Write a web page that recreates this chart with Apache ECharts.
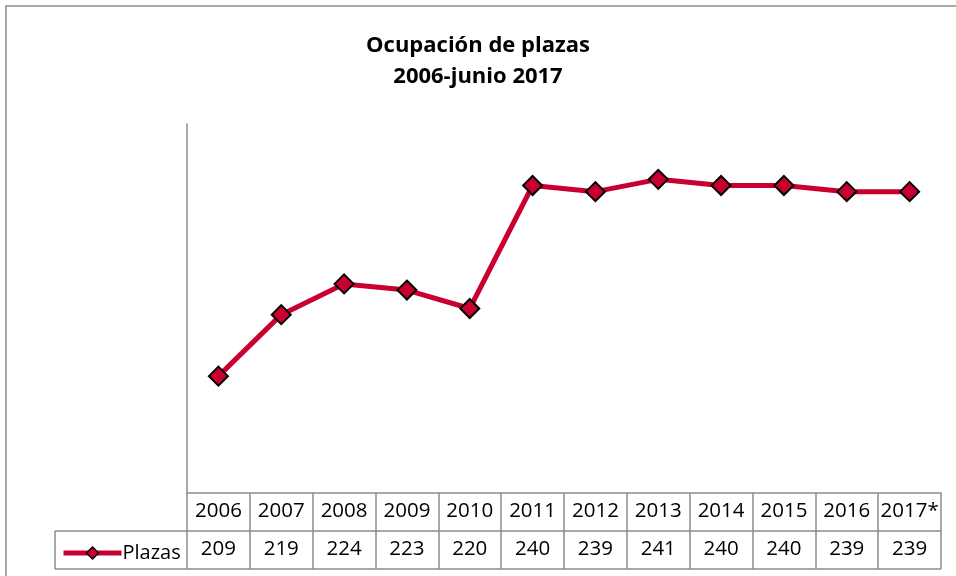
<!DOCTYPE html>
<html>
<head>
<meta charset="utf-8">
<script src="https://cdn.jsdelivr.net/npm/echarts@6/dist/echarts.min.js"></script>
<style>
  html, body { margin: 0; padding: 0; background: #fff; }
  #main { width: 956px; height: 576px; }
</style>
</head>
<body>
<div id="main"></div>
<script>
var years = ['2006', '2007', '2008', '2009', '2010', '2011', '2012', '2013', '2014', '2015', '2016', '2017*'];
var plazas = [209, 219, 224, 223, 220, 240, 239, 241, 240, 240, 239, 239];
var seriesName = 'Plazas';

var red = '#C9002F';
var gray = '#8c8c8c';
var font = '"Open Sans", sans-serif';

var myChart = echarts.init(document.getElementById('main'));

myChart.setOption({
	animation: false,
	backgroundColor: '#fff',
	title: {
		text: 'Ocupación de plazas\n2006-junio 2017',
		left: 'center',
		top: 25,
		textStyle: {
			fontFamily: font,
			fontWeight: 'bold',
			fontSize: 22,
			lineHeight: 31,
			color: '#000'
		}
	},
	legend: {
		data: [seriesName],
		left: 56,
		top: 538,
		itemWidth: 58,
		itemHeight: 15,
		itemGap: 4,
		lineStyle: { width: 5 },
		itemStyle: { borderColor: '#000', borderWidth: 1.5 },
		textStyle: { fontFamily: font, fontSize: 20, color: '#000', padding: [0, 0, 0, -4] }
	},
	grid: { left: 187, right: 15, top: 124, bottom: 83 },
	xAxis: [{
		type: 'category',
		data: years,
		position: 'bottom',
		axisLine: { show: true, lineStyle: { color: gray, width: 1.5 } },
		axisTick: { show: true, interval: 0, length: 76, lineStyle: { color: gray, width: 1.5 } },
		axisLabel: { interval: 0, margin: 8, fontFamily: font, fontSize: 20.5, color: '#000' }
	}, {
		type: 'category',
		data: plazas.map(String),
		position: 'bottom',
		offset: 38,
		axisLine: { show: false },
		axisTick: { show: false },
		axisLabel: { interval: 0, margin: 8, fontFamily: font, fontSize: 20.5, color: '#000' }
	}],
	yAxis: {
		type: 'value',
		min: 190,
		max: 250,
		axisLine: { show: true, lineStyle: { color: gray, width: 1.5 } },
		axisTick: { show: false },
		axisLabel: { show: false },
		splitLine: { show: false }
	},
	graphic: [
		{ type: 'rect', shape: { x: 6, y: 6, width: 980, height: 600 }, style: { fill: null, stroke: gray, lineWidth: 1.5 }, silent: true },
		{ type: 'line', shape: { x1: 55, y1: 531, x2: 941, y2: 531 }, style: { stroke: gray, lineWidth: 1.5 } },
		{ type: 'line', shape: { x1: 55, y1: 569, x2: 941, y2: 569 }, style: { stroke: gray, lineWidth: 1.5 } },
		{ type: 'line', shape: { x1: 55, y1: 531, x2: 55, y2: 569 }, style: { stroke: gray, lineWidth: 1.5 } }
	],
	series: [{
		name: seriesName,
		type: 'line',
		data: plazas,
		symbol: 'diamond',
		symbolSize: 19,
		lineStyle: { color: red, width: 5 },
		itemStyle: { color: red, borderColor: '#000', borderWidth: 2 }
	}]
});
</script>
</body>
</html>
